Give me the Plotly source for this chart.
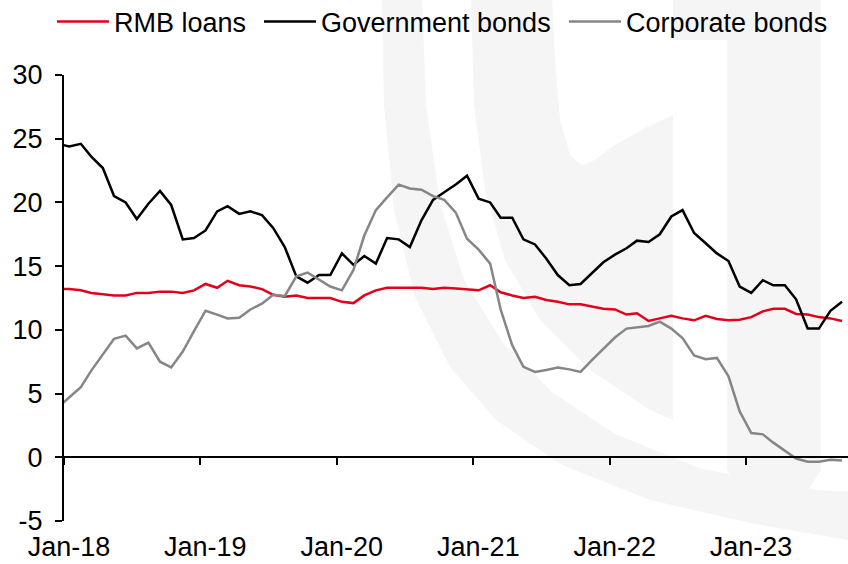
import pandas as pd
import plotly.graph_objects as go

# Monthly observations, Dec-17 .. Sep-23 (plotted mid-month)
months = pd.date_range("2017-12-01", "2023-09-01", freq="MS") + pd.Timedelta(days=14)

rmb_loans = [13.2, 13.2, 13.1, 12.9, 12.8, 12.7, 12.7, 12.9, 12.9, 13.0, 13.0, 12.9, 13.1,
             13.6, 13.3, 13.85, 13.5, 13.4, 13.2, 12.75, 12.6, 12.7, 12.5, 12.5, 12.5,
             12.2, 12.1, 12.7, 13.1, 13.3, 13.3, 13.3, 13.3, 13.2, 13.3, 13.25, 13.2,
             13.1, 13.5, 12.95, 12.7, 12.5, 12.6, 12.35, 12.2, 12.0, 12.0, 11.85, 11.65,
             11.6, 11.2, 11.3, 10.7, 10.9, 11.1, 10.9, 10.75, 11.1, 10.85, 10.75, 10.8,
             11.0, 11.45, 11.65, 11.65, 11.25, 11.2, 11.0, 10.9, 10.7]

gov_bonds = [24.6, 24.4, 24.6, 23.6, 22.7, 20.5, 20.0, 18.7, 19.9, 20.9, 19.8, 17.1, 17.2,
             17.8, 19.3, 19.7, 19.1, 19.3, 19.0, 18.0, 16.5, 14.2, 13.7, 14.3, 14.3,
             16.0, 15.1, 15.8, 15.2, 17.2, 17.1, 16.5, 18.6, 20.2, 20.8, 21.4, 22.1,
             20.3, 20.0, 18.8, 18.8, 17.1, 16.7, 15.6, 14.3, 13.5, 13.6, 14.5, 15.3,
             15.9, 16.4, 17.0, 16.9, 17.5, 18.9, 19.4, 17.6, 16.8, 16.0, 15.4, 13.4,
             12.9, 13.9, 13.5, 13.5, 12.4, 10.1, 10.1, 11.5, 12.2]

corp_bonds = [3.9, 4.7, 5.5, 6.8, 8.1, 9.3, 9.55, 8.55, 9.0, 7.5, 7.05, 8.3, 9.9,
              11.5, 11.2, 10.9, 10.95, 11.6, 12.05, 12.75, 12.65, 14.2, 14.5, 13.95, 13.4,
              13.1, 14.7, 17.4, 19.4, 20.4, 21.4, 21.1, 21.0, 20.5, 20.2, 19.2, 17.15,
              16.3, 15.2, 11.6, 8.8, 7.1, 6.7, 6.85, 7.05, 6.9, 6.7, 7.65, 8.55,
              9.4, 10.1, 10.2, 10.3, 10.65, 10.1, 9.35, 8.0, 7.7, 7.8, 6.35, 3.6,
              1.9, 1.8, 1.15, 0.55, -0.1, -0.35, -0.35, -0.2, -0.25]

series_names = ["RMB loans", "Government bonds", "Corporate bonds"]
series_colors = ["#e3001b", "#000000", "#868686"]
y_ticks = [-5, 0, 5, 10, 15, 20, 25, 30]
y_tick_text = ["-5", "0", "5", "10", "15", "20", "25", "30"]

FONT = "Liberation Sans, Arial, sans-serif"
W, H = 848, 564
ML, MR, MT, MB = 64, 0, 75, 43

fig = go.Figure()
legend_ids = ["legend", "legend2", "legend3"]
for name, vals, col, lg in zip(series_names, [rmb_loans, gov_bonds, corp_bonds],
                               series_colors, legend_ids):
    fig.add_trace(go.Scatter(x=months, y=vals, mode="lines", name=name, legend=lg,
                             line=dict(color=col, width=2.5)))

# --- faint background watermark (decoration) ---
def to_paper(pts):
    pw, ph = W - ML - MR, H - MT - MB
    return [((x - ML) / pw, (H - MB - y) / ph) for x, y in pts]

def path_of(pts):
    pp = to_paper(pts)
    return "M " + " L ".join(f"{x:.4f},{y:.4f}" for x, y in pp) + " Z"

wm_color = "#f5f5f5"
band_a = [(382, -5), (384, 105), (394, 210), (415, 297), (450, 367), (496, 420),
          (562, 465), (650, 500), (755, 524), (860, 542),
          (860, 492), (817, 490), (702, 469), (615, 434), (552, 392), (503, 343),
          (464, 280), (440, 203), (426, 105), (422, -5)]
region_b = [(471, -5), (474, 105), (485, 190), (505, 260), (540, 320), (590, 370),
            (650, 410), (673, 420), (673, 115), (645, 128), (615, 145), (595, 160),
            (582, 165), (570, 155), (560, 120), (555, 60), (552, -5)]
bar_c = [(727, -5), (727, 470), (740, 490), (774, 498), (808, 490), (821, 470), (821, -5)]
cap_d = [(673, -5), (673, 40), (727, 40), (727, -5)]
shapes = []
for poly in [band_a, region_b, bar_c, cap_d]:
    shapes.append(dict(type="path", xref="paper", yref="paper", path=path_of(poly),
                       fillcolor=wm_color, line=dict(width=0), layer="below"))

leg_common = dict(orientation="h", xref="container", yref="container",
                  xanchor="left", yanchor="middle", y=1 - 22 / H,
                  font=dict(size=27, family=FONT, color="black"),
                  bgcolor="rgba(0,0,0,0)", itemwidth=52, borderwidth=0)

fig.update_layout(
    width=W, height=H,
    margin=dict(l=ML, r=MR, t=MT, b=MB, autoexpand=False),
    paper_bgcolor="white", plot_bgcolor="rgba(0,0,0,0)",
    font=dict(family=FONT, size=27, color="black"),
    showlegend=True,
    legend=dict(x=(58 - 6) / W, **leg_common),
    legend2=dict(x=(265 - 6) / W, **leg_common),
    legend3=dict(x=(570 - 6) / W, **leg_common),
    shapes=shapes,
    xaxis=dict(type="date", range=["2018-01-01", "2023-10-01"],
               tick0="2018-01-01", dtick="M12", tickformat="%b-%y",
               anchor="free", position=5/35,
               showline=True, linecolor="black", linewidth=2,
               ticks="outside", ticklen=7, tickwidth=2, tickcolor="black",
               ticklabelstandoff=58, ticklabelshift=5,
               showgrid=False, zeroline=False,
               tickfont=dict(size=27)),
    yaxis=dict(range=[-5, 30], tickvals=y_ticks, ticktext=y_tick_text,
               showline=True, linecolor="black", linewidth=2,
               ticks="outside", ticklen=7, tickwidth=2, tickcolor="black",
               ticklabelstandoff=7, showgrid=False, zeroline=False,
               tickfont=dict(size=27)),
)

fig.write_html("out.html", config={"displayModeBar": False},
               post_script="document.body.style.margin='0px';document.body.style.overflow='hidden';")
